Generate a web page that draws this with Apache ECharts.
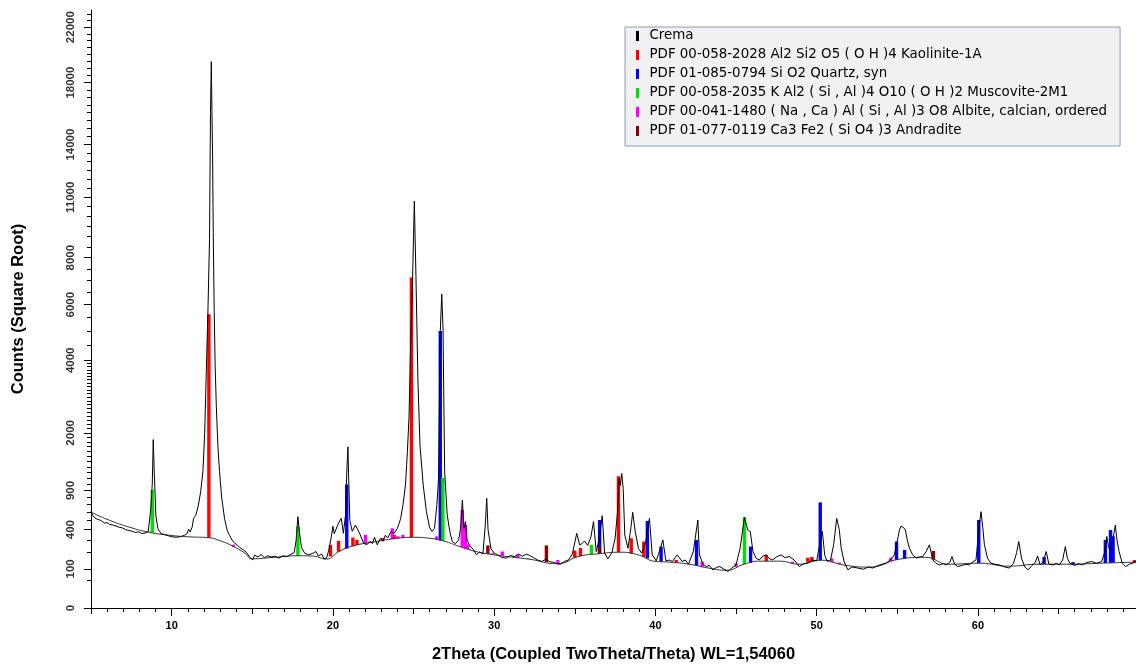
<!DOCTYPE html>
<html>
<head>
<meta charset="utf-8">
<title>Crema XRD</title>
<script src="https://cdn.jsdelivr.net/npm/echarts@6/dist/echarts.min.js"></script>
<style>
    html, body { margin: 0; padding: 0; background: #fff; }
    #chart { width: 1136px; height: 668px; }
</style>
</head>
<body>
<div id="chart"></div>
<script>
// measured scan, [2theta, counts]
var scanPoints = [
    [5.00, 615], [5.10, 560], [5.25, 528], [5.40, 512], [5.55, 505], [5.70, 488], [5.85, 470], [6.00, 476], [6.15, 455], [6.35, 449],
    [6.55, 438], [6.75, 425], [6.95, 418], [7.15, 400], [7.35, 392], [7.55, 384], [7.75, 372], [7.95, 378], [8.15, 362], [8.35, 366],
    [8.55, 380], [8.70, 625], [8.80, 1000], [8.86, 1849], [8.93, 1150], [9.02, 560], [9.15, 410], [9.35, 360], [9.55, 352], [9.80, 340],
    [10.05, 330], [10.30, 326], [10.55, 332], [10.80, 345], [10.95, 360], [11.05, 405], [11.15, 378], [11.28, 430], [11.36, 524], [11.50, 560],
    [11.65, 680], [11.80, 880], [11.94, 1215], [12.05, 2000], [12.15, 3637], [12.25, 5711], [12.35, 8864], [12.41, 15993], [12.46, 19460], [12.50, 16060],
    [12.54, 13287], [12.58, 9202], [12.64, 5711], [12.70, 3800], [12.77, 2668], [12.87, 1700], [12.97, 1215], [13.10, 800], [13.28, 524], [13.45, 390],
    [13.59, 345], [13.75, 300], [13.90, 275], [14.05, 262], [14.25, 236], [14.45, 220], [14.65, 200], [14.85, 168], [15.03, 151], [15.15, 182],
    [15.35, 170], [15.55, 186], [15.75, 165], [15.95, 178], [16.15, 170], [16.40, 174], [16.65, 162], [16.90, 178], [17.15, 172], [17.40, 188],
    [17.60, 200], [17.72, 300], [17.83, 544], [17.92, 380], [18.05, 240], [18.25, 196], [18.50, 184], [18.75, 195], [18.95, 208], [19.10, 176],
    [19.30, 190], [19.45, 158], [19.60, 162], [19.75, 220], [19.90, 330], [20.00, 435], [20.08, 360], [20.20, 350], [20.35, 470], [20.52, 524],
    [20.65, 364], [20.78, 560], [20.86, 1200], [20.93, 1693], [20.98, 1100], [21.05, 500], [21.20, 384], [21.40, 449], [21.55, 397], [21.70, 348],
    [21.90, 274], [22.10, 260], [22.30, 290], [22.45, 270], [22.58, 326], [22.75, 260], [22.95, 317], [23.10, 290], [23.25, 345], [23.40, 320],
    [23.60, 381], [23.80, 364], [24.00, 414], [24.20, 520], [24.35, 700], [24.50, 985], [24.62, 1590], [24.72, 2378], [24.82, 4500], [24.94, 7050],
    [25.05, 10794], [25.15, 7190], [25.27, 3425], [25.40, 1727], [25.60, 985], [25.80, 605], [26.00, 420], [26.15, 381], [26.30, 414], [26.45, 700],
    [26.55, 1094], [26.66, 5015], [26.75, 6424], [26.83, 5076], [26.93, 1210], [27.09, 563], [27.25, 380], [27.40, 288], [27.60, 270], [27.80, 300],
    [27.92, 420], [28.03, 760], [28.12, 414], [28.22, 487], [28.32, 300], [28.50, 250], [28.70, 225], [28.90, 184], [29.10, 205], [29.30, 190],
    [29.45, 450], [29.54, 783], [29.62, 400], [29.80, 230], [30.00, 196], [30.20, 185], [30.45, 168], [30.75, 162], [31.00, 180], [31.25, 172],
    [31.50, 190], [31.75, 175], [32.00, 189], [32.20, 180], [32.45, 165], [32.70, 150], [32.95, 141], [33.20, 155], [33.45, 140], [33.70, 135],
    [33.90, 128], [34.10, 125], [34.35, 141], [34.60, 150], [34.85, 190], [35.12, 364], [35.30, 260], [35.45, 270], [35.60, 293], [35.80, 255],
    [36.00, 330], [36.16, 487], [36.33, 208], [36.50, 300], [36.70, 556], [36.85, 196], [37.05, 157], [37.30, 200], [37.50, 317], [37.65, 600],
    [37.75, 1100], [37.82, 980], [37.91, 1180], [38.00, 932], [38.10, 348], [38.30, 233], [38.48, 420], [38.59, 597], [38.75, 380], [38.95, 230],
    [39.15, 196], [39.40, 288], [39.63, 524], [39.80, 184], [40.05, 145], [40.25, 210], [40.46, 302], [40.65, 145], [40.85, 150], [41.05, 141],
    [41.35, 184], [41.65, 141], [41.85, 150], [42.05, 125], [42.35, 208], [42.63, 505], [42.73, 184], [42.95, 125], [43.15, 112], [43.35, 118],
    [43.55, 95], [43.80, 108], [44.00, 112], [44.25, 98], [44.50, 87], [44.75, 105], [45.00, 121], [45.25, 233], [45.52, 533], [45.73, 397],
    [45.88, 381], [46.05, 208], [46.25, 160], [46.45, 151], [46.65, 175], [46.87, 184], [47.05, 160], [47.28, 151], [47.50, 170], [47.80, 184],
    [48.05, 165], [48.31, 173], [48.60, 150], [48.93, 112], [49.20, 128], [49.45, 131], [49.70, 150], [50.00, 145], [50.15, 240], [50.35, 381],
    [50.50, 180], [50.65, 141], [50.86, 151], [51.05, 260], [51.24, 524], [51.40, 400], [51.52, 233], [51.70, 140], [51.93, 95], [52.20, 110],
    [52.55, 104], [52.90, 98], [53.20, 110], [53.48, 104], [53.80, 118], [54.05, 125], [54.30, 131], [54.55, 150], [54.82, 184], [55.05, 330],
    [55.13, 397], [55.23, 438], [55.40, 420], [55.50, 397], [55.62, 300], [55.75, 233], [55.95, 185], [56.16, 162], [56.40, 170], [56.57, 173],
    [56.80, 210], [56.99, 260], [57.20, 151], [57.40, 130], [57.61, 121], [57.85, 128], [58.02, 121], [58.25, 135], [58.39, 173], [58.55, 125],
    [58.74, 112], [59.00, 118], [59.25, 125], [59.46, 121], [59.70, 140], [59.88, 151], [60.05, 400], [60.19, 605], [60.30, 420], [60.40, 260],
    [60.60, 160], [60.80, 131], [61.05, 125], [61.33, 121], [61.65, 110], [61.95, 104], [62.20, 130], [62.40, 200], [62.53, 288], [62.70, 162],
    [62.90, 110], [63.12, 95], [63.35, 118], [63.55, 135], [63.70, 177], [63.85, 121], [64.05, 140], [64.23, 208], [64.40, 125], [64.65, 121],
    [64.85, 130], [65.05, 121], [65.25, 150], [65.42, 246], [65.55, 160], [65.70, 131], [66.00, 118], [66.25, 128], [66.43, 121], [66.75, 135],
    [67.05, 141], [67.35, 130], [67.67, 141], [67.85, 200], [67.99, 333], [68.10, 240], [68.20, 220], [68.35, 288], [68.52, 449], [68.62, 300],
    [68.75, 208], [68.95, 130], [69.15, 112], [69.40, 125], [69.60, 131], [69.80, 140]
];

// fitted background, [2theta, counts]
var backgroundPoints = [
    [5.0, 600], [6.15, 501], [7.4, 425], [8.6, 374], [9.87, 345], [11.1, 330], [12.35, 322], [13.0, 295], [13.6, 262], [14.5, 200],
    [15.0, 158], [16.4, 168], [17.9, 178], [18.8, 175], [19.6, 156], [20.4, 210], [21.3, 253], [22.6, 286], [23.8, 313], [24.9, 326],
    [26.0, 317], [26.9, 291], [27.8, 249], [28.8, 210], [29.7, 189], [30.6, 175], [32.2, 155], [33.9, 128], [35.3, 175], [36.5, 192],
    [37.8, 203], [39.0, 182], [39.9, 143], [40.9, 137], [42.1, 125], [43.3, 104], [44.4, 93], [45.5, 125], [46.4, 143], [47.7, 143],
    [48.9, 125], [50.3, 149], [51.7, 120], [53.3, 109], [55.1, 155], [56.7, 168], [58.2, 125], [60.1, 131], [61.9, 114], [63.8, 125],
    [65.7, 125], [67.6, 131], [69.8, 137]
];

// reference sticks, [2theta, top in counts]
var kaoliniteSticks = [
    [12.31, 5630], [19.85, 260], [20.35, 293], [21.24, 323], [21.49, 302], [23.10, 320], [23.80, 348], [24.87, 7120],
    [35.00, 215], [35.35, 235], [37.71, 1132], [38.50, 317], [39.28, 288], [41.29, 151], [46.87, 184], [49.45, 165],
    [49.70, 170], [69.70, 150]
];
var quartzSticks = [
    [20.86, 995], [26.66, 5000], [36.54, 505], [39.50, 494], [40.35, 246], [42.55, 302], [45.90, 246], [50.22, 727],
    [54.95, 288], [55.45, 220], [60.05, 505], [64.10, 170], [65.90, 137], [67.90, 302], [68.22, 397], [68.38, 335]
];
var muscoviteSticks = [
    [8.80, 906], [17.83, 432], [26.82, 1105], [31.26, 175], [32.10, 160], [36.03, 260], [45.52, 540]
];
var albiteSticks = [
    [13.84, 262], [22.02, 348], [23.68, 414], [24.03, 335], [24.34, 348], [26.44, 335], [28.02, 626], [28.22, 449],
    [28.37, 262], [29.88, 196], [30.50, 208], [31.47, 184], [33.95, 150], [42.90, 140], [45.00, 130], [48.50, 140],
    [50.94, 160], [51.40, 135], [54.60, 165]
];
var andraditeSticks = [
    [20.83, 240], [23.06, 300], [29.61, 255], [33.24, 255], [36.53, 246], [57.24, 212]
];

var phaseNames = [
    'Crema',
    'PDF 00-058-2028 Al2 Si2 O5 ( O H )4 Kaolinite-1A',
    'PDF 01-085-0794 Si O2 Quartz, syn',
    'PDF 00-058-2035 K Al2 ( Si , Al )4 O10 ( O H )2 Muscovite-2M1',
    'PDF 00-041-1480 ( Na , Ca ) Al ( Si , Al )3 O8 Albite, calcian, ordered',
    'PDF 01-077-0119 Ca3 Fe2 ( Si O4 )3 Andradite'
];
var phaseColors = ['#000000', '#ff0000', '#0000ff', '#00e000', '#ff00ff', '#8b0000'];

// square-root axis ticks, in counts
var yLabelCounts = [0, 100, 400, 900, 2000, 4000, 6000, 8000, 11000, 14000, 18000, 22000];
var yMinorCounts = [50];
for (var c = 100; c <= 4000; c += 100) yMinorCounts.push(c);
for (var c2 = 4500; c2 <= 23000; c2 += 500) yMinorCounts.push(c2);
var xLabelValues = [10, 20, 30, 40, 50, 60];
var xHalfTicks = [5, 15, 25, 35, 45, 55, 65];
var xMinorTicks = [];
for (var t = 5; t <= 69; t++) xMinorTicks.push(t);

var FONT = 'Liberation Sans, Arial, sans-serif';
var Y_MAX = 152.7;

function sq(v) { return Math.sqrt(Math.max(v, 0)); }

function backgroundAt(theta) {
    for (var i = 1; i < backgroundPoints.length; i++) {
        var a = backgroundPoints[i - 1], b = backgroundPoints[i];
        if (theta <= b[0]) {
            var f = (theta - a[0]) / (b[0] - a[0]);
            return a[1] + f * (b[1] - a[1]);
        }
    }
    return backgroundPoints[backgroundPoints.length - 1][1];
}

function stickSeries(name, sticks, color) {
    return {
        name: name,
        type: 'custom',
        z: 2,
        clip: true,
        itemStyle: { color: color },
        encode: { x: 0, y: [1, 2] },
        data: sticks.map(function (s) {
            return [s[0], sq(s[1]), sq(backgroundAt(s[0]))];
        }),
        renderItem: function (params, api) {
            var top = api.coord([api.value(0), api.value(1)]);
            var base = api.coord([api.value(0), api.value(2)]);
            return {
                type: 'rect',
                shape: { x: top[0] - 1.7, y: top[1], width: 3.4, height: base[1] - top[1] },
                style: { fill: color }
            };
        }
    };
}

var dom = document.getElementById('chart');
var myChart = echarts.init(dom, null, { renderer: 'canvas', useDirtyRect: false });

var option = {
    animation: false,
    backgroundColor: '#ffffff',
    grid: { left: 91, right: 0, top: 10, bottom: 58, containLabel: false },
    legend: {
        data: phaseNames,
        orient: 'vertical',
        left: 625,
        top: 27,
        itemWidth: 14,
        itemHeight: 10,
        itemGap: 5,
        icon: 'path://M0,0h3v10h-3z',
        padding: [2, 13, 8, 11],
        backgroundColor: '#f1f1f4',
        borderColor: '#8c9cb6',
        borderWidth: 1,
        borderRadius: 0,
        selectedMode: false,
        textStyle: { fontFamily: 'DejaVu Sans, sans-serif', fontSize: 13.4, color: '#000', lineHeight: 14 }
    },
    xAxis: [
        {
            type: 'value', position: 'bottom', min: 5, max: 69.8,
            name: '2Theta (Coupled TwoTheta/Theta) WL=1,54060',
            nameLocation: 'middle', nameGap: 38,
            nameTextStyle: { fontFamily: FONT, fontSize: 16.5, fontWeight: 'bold', color: '#000' },
            axisLine: { show: true, onZero: false, lineStyle: { color: '#000', width: 1 } },
            axisTick: { show: true, length: 8, customValues: xLabelValues, lineStyle: { color: '#000' } },
            axisLabel: {
                customValues: xLabelValues, margin: 12,
                fontFamily: FONT, fontSize: 11, fontWeight: 'bold', color: '#000'
            },
            splitLine: { show: false }
        },
        {
            type: 'value', position: 'bottom', min: 5, max: 69.8,
            axisLine: { show: false, onZero: false },
            axisTick: { show: true, length: 6, customValues: xHalfTicks, lineStyle: { color: '#000' } },
            axisLabel: { show: false },
            splitLine: { show: false }
        },
        {
            type: 'value', position: 'bottom', min: 5, max: 69.8,
            axisLine: { show: false, onZero: false },
            axisTick: { show: true, length: 4, customValues: xMinorTicks, lineStyle: { color: '#000' } },
            axisLabel: { show: false },
            splitLine: { show: false }
        }
    ],
    yAxis: [
        {
            type: 'value', position: 'left', min: 0, max: Y_MAX,
            name: 'Counts (Square Root)',
            nameLocation: 'middle', nameGap: 64,
            nameTextStyle: { fontFamily: FONT, fontSize: 16.5, fontWeight: 'bold', color: '#000' },
            axisLine: { show: true, onZero: false, lineStyle: { color: '#000', width: 1 } },
            axisTick: { show: true, length: 7, customValues: yLabelCounts.map(sq), lineStyle: { color: '#000' } },
            axisLabel: {
                customValues: yLabelCounts.map(sq),
                rotate: 90, margin: 14,
                fontFamily: FONT, fontSize: 11.5, fontWeight: 'bold', color: '#333',
                formatter: function (v) { return String(Math.round(v * v / 100) * 100); }
            },
            splitLine: { show: false }
        },
        {
            type: 'value', position: 'left', min: 0, max: Y_MAX,
            axisLine: { show: false, onZero: false },
            axisTick: { show: true, length: 4, customValues: yMinorCounts.map(sq), lineStyle: { color: '#000' } },
            axisLabel: { show: false },
            splitLine: { show: false }
        }
    ],
    series: [
        {
            name: phaseNames[0],
            type: 'line',
            z: 4,
            showSymbol: false,
            itemStyle: { color: phaseColors[0] },
            lineStyle: { color: '#000', width: 1 },
            data: scanPoints.map(function (p) { return [p[0], sq(p[1])]; })
        },
        {
            name: 'Background',
            type: 'line',
            z: 3,
            smooth: true,
            showSymbol: false,
            lineStyle: { color: '#333', width: 1 },
            data: backgroundPoints.map(function (p) { return [p[0], sq(p[1])]; })
        },
        stickSeries(phaseNames[1], kaoliniteSticks, phaseColors[1]),
        stickSeries(phaseNames[2], quartzSticks, phaseColors[2]),
        stickSeries(phaseNames[3], muscoviteSticks, phaseColors[3]),
        stickSeries(phaseNames[4], albiteSticks, phaseColors[4]),
        stickSeries(phaseNames[5], andraditeSticks, phaseColors[5])
    ]
};

if (option && typeof option === 'object') {
    myChart.setOption(option);
}

window.addEventListener('resize', myChart.resize);
</script>
</body>
</html>
